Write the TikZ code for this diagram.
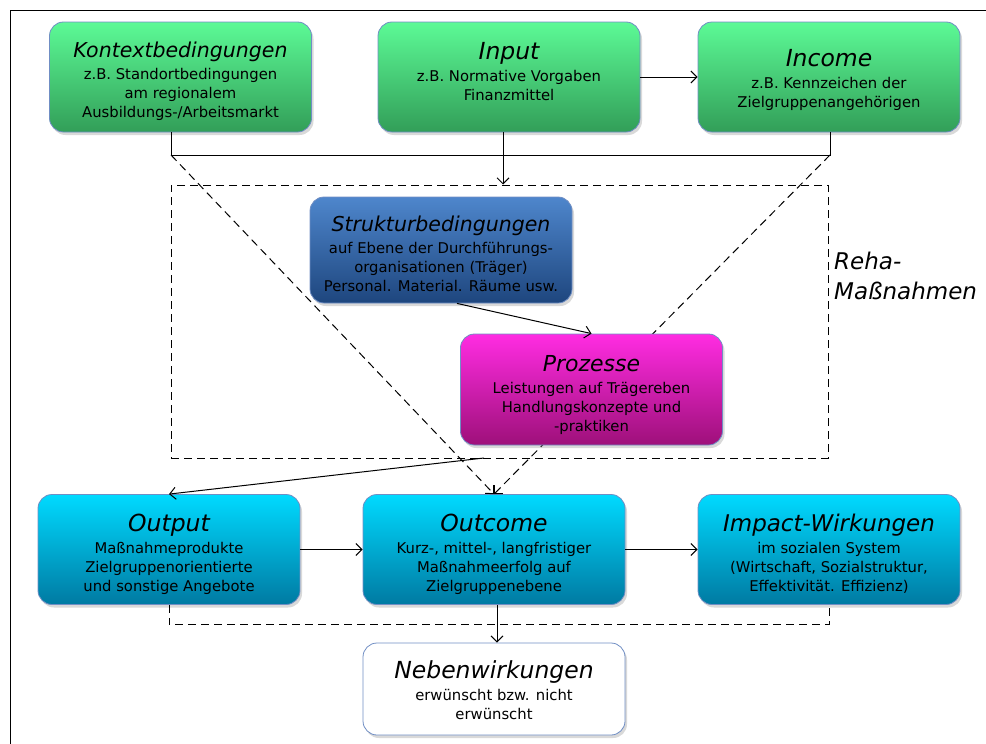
\documentclass[tikz,border=0pt]{standalone}
\usepackage{fontspec}
\setmainfont{DejaVu Sans}
\usetikzlibrary{shadows,arrows.meta}
\definecolor{mygreentop}{RGB}{92,250,150}
\definecolor{mygreenbot}{RGB}{50,158,88}
\definecolor{mybluetop}{RGB}{78,134,204}
\definecolor{mybluebot}{RGB}{30,70,126}
\definecolor{mypinktop}{RGB}{255,44,226}
\definecolor{mypinkbot}{RGB}{158,16,122}
\definecolor{mycyantop}{RGB}{0,218,255}
\definecolor{mycyanbot}{RGB}{0,122,162}
\definecolor{myborder}{RGB}{112,142,196}

% box text: [height of text block]{title size}{title}{body}
\newcommand{\boxtext}[4][70pt]{\parbox[c][#1][t]{256pt}{\centering
  {\itshape\fontsize{#2}{#2}\selectfont #3}\par\vspace{3pt}#4}}

\tikzset{
  box/.style={rounded corners=14pt, draw=myborder, line width=0.8pt,
    minimum width=262pt, minimum height=110pt, inner sep=0pt,
    font=\fontsize{14.8}{19}\selectfont,
    drop shadow={shadow xshift=2pt, shadow yshift=-3pt, opacity=0.3}},
  greenbox/.style={box, top color=mygreentop, bottom color=mygreenbot},
  bluebox/.style={box, top color=mybluetop, bottom color=mybluebot},
  pinkbox/.style={box, top color=mypinktop, bottom color=mypinkbot},
  cyanbox/.style={box, top color=mycyantop, bottom color=mycyanbot},
  flow/.style={line width=1pt, -{Straight Barb[length=6pt,width=12pt]}},
  dashflow/.style={flow, dash pattern=on 8pt off 5pt},
}

\begin{document}
\begin{tikzpicture}[x=1pt, y=-1pt]
    \useasboundingbox (0,0) rectangle (986,744);

    % Frame (top and left edge only)
    \draw[line width=1pt] (10,744) -- (10,10) -- (986,10);

    % Top row
    \node[greenbox] (kontext) at (180.5,77) {\boxtext{20.5}{Kontextbedingungen}{%
      z.B. Standortbedingungen\\ am regionalem\\ Ausbildungs-/Arbeitsmarkt}};
    \node[greenbox] (input) at (509,77) {\boxtext{23.5}{Input}{%
      z.B. Normative Vorgaben\\ Finanzmittel}};
    \node[greenbox] (income) at (829,77) {\boxtext[56pt]{23.5}{Income}{%
      z.B. Kennzeichen der\\ Zielgruppenangehörigen}};

    % Dashed frame of the Reha measures
    \node[draw, dash pattern=on 8pt off 5pt, line width=1pt,
      minimum width=657pt, minimum height=273pt] (reha) at (499.5,321.5) {};
    \node[anchor=west, align=left, inner sep=0pt, font=\itshape\fontsize{23}{30}\selectfont]
      (rehalabel) at (834,276) {Reha-\\Maßnahmen};

    \node[bluebox, minimum height=106pt] (struktur) at (441,250) {\boxtext[68pt]{20.5}{Strukturbedingungen}{%
      auf Ebene der Durchführungs-\\ organisationen (Träger)\\ Personal. Material. Räume usw.}};

    % Bottom row
    \node[cyanbox] (output) at (169,549.5) {\boxtext{23.5}{Output}{%
      Maßnahmeprodukte\\ Zielgruppenorientierte\\ und sonstige Angebote}};
    \node[cyanbox] (outcome) at (494,549.5) {\boxtext{23.5}{Outcome}{%
      Kurz-, mittel-, langfristiger\\ Maßnahmeerfolg auf\\ Zielgruppenebene}};
    \node[cyanbox] (impact) at (829,549.5) {\boxtext{23}{Impact-Wirkungen}{%
      im sozialen System\\ (Wirtschaft, Sozialstruktur,\\ Effektivität. Effizienz)}};
    \node[box, fill=white, minimum height=92pt] (neben) at (494,689) {\boxtext[56pt]{23.5}{Nebenwirkungen}{%
      erwünscht bzw. nicht\\ erwünscht}};

    % Junctions below the top row
    \coordinate (kj) at (171,155);
    \coordinate (ij) at (830,155);
    \draw[line width=1pt] (kontext.south -| kj) -- (kj) -- (ij) -- (ij |- income.south);

    % Dashed influence lines (behind Prozesse)
    \draw[dashflow] (kj) -- (outcome.north);
    \draw[dashflow] (ij) -- (outcome.north);

    \node[pinkbox, minimum height=111pt] (prozesse) at (591.5,389.5) {\boxtext[69pt]{22}{Prozesse}{%
      Leistungen auf Trägereben\\ Handlungskonzepte und\\ -praktiken}};

    % Arrows
    \draw[flow] (input) -- (income);
    \draw[flow] ([xshift=-6pt]input.south) -- ([xshift=-6pt]input.south |- reha.north);
    \draw[flow] ([xshift=16pt]struktur.south) -- (prozesse.north);
    \coordinate (rout) at (484,458);
    \draw[flow] (rout) -- (output.north);
    \draw[flow] (output) -- (outcome);
    \draw[flow] (outcome) -- (impact);
    \draw[dash pattern=on 8pt off 5pt, line width=1pt] (output.south) -- ++(0,20) -| (impact.south);
    \draw[flow] ([xshift=3pt]outcome.south) -- ([xshift=3pt]neben.north);
  \end{tikzpicture}
\end{document}
